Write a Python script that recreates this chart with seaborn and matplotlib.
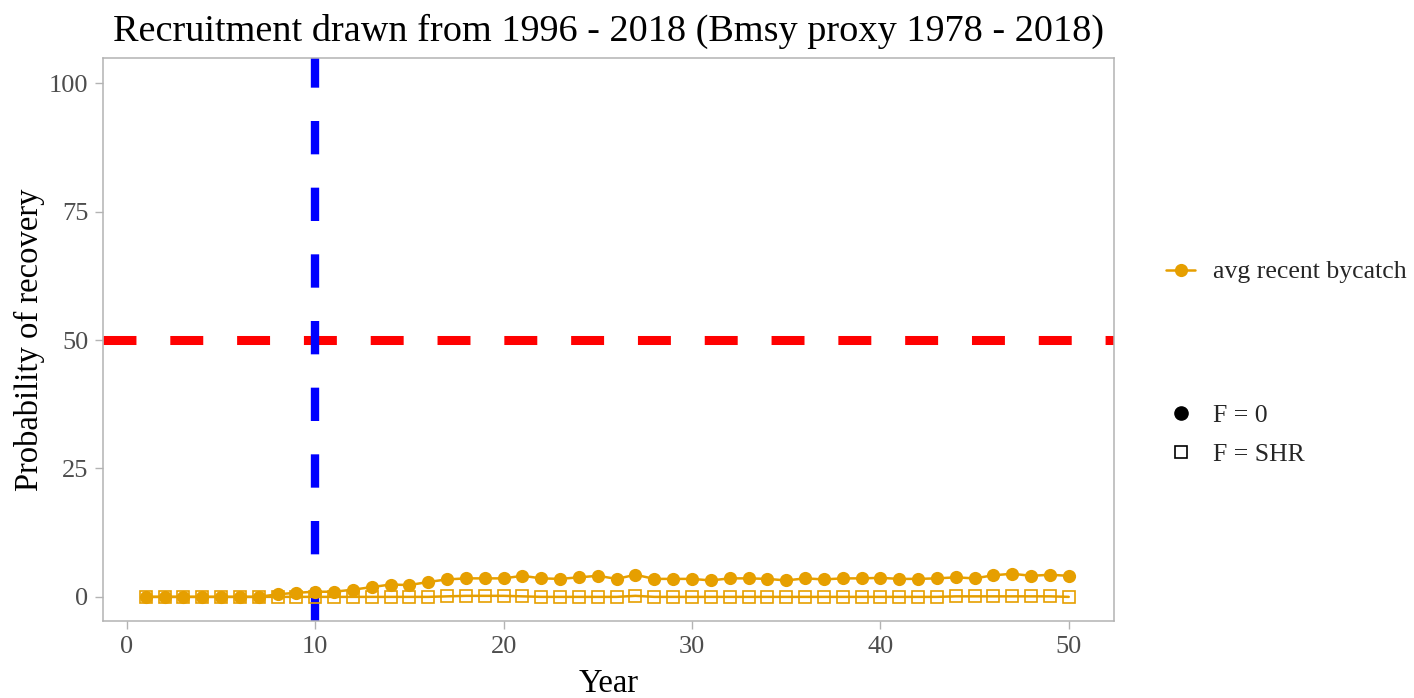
import numpy as np
import pandas as pd
import matplotlib
matplotlib.use("Agg")
import matplotlib.pyplot as plt
from matplotlib.lines import Line2D
import seaborn as sns

# ------------------------- DATA ------------------------- #

years = list(range(1, 51))
prob_f0 = [0, 0, 0, 0, 0, 0, 0, 0.5, 0.8, 1.0,
           1.0, 1.4, 1.9, 2.4, 2.3, 2.9, 3.4, 3.6, 3.6, 3.6,
           4.1, 3.6, 3.5, 3.8, 4.1, 3.5, 4.3, 3.5, 3.5, 3.5,
           3.2, 3.6, 3.6, 3.5, 3.2, 3.6, 3.4, 3.6, 3.6, 3.7,
           3.5, 3.5, 3.6, 3.8, 3.6, 4.2, 4.5, 4.1, 4.3, 4.1]
prob_shr = [0, 0, 0, 0, 0, 0, 0, 0, 0, 0,
            0, 0, 0, 0, 0, 0, 0.1, 0.2, 0.2, 0.2,
            0.1, 0, 0, 0, 0, 0, 0.2, 0, 0, 0,
            0, 0, 0, 0, 0, 0, 0, 0, 0, 0,
            0, 0, 0, 0.1, 0.1, 0.1, 0.1, 0.1, 0.1, 0]
bycatch_label = "avg recent bycatch"
f_labels = ["F = 0", "F = SHR"]
target_year = 10
target_prob = 50
title = "Recruitment drawn from 1996 - 2018 (Bmsy proxy 1978 - 2018)"

df = pd.DataFrame({
    "Year": years * 2,
    "prob": prob_f0 + prob_shr,
    "F": [f_labels[0]] * len(years) + [f_labels[1]] * len(years),
})

# ------------------------- PLOT ------------------------- #

sns.set_style("white")
plt.rcParams["font.family"] = ["Liberation Serif", "DejaVu Serif"]

orange = "#E69F00"
grey = "#b3b3b3"

fig = plt.figure(figsize=(14.14, 6.98), dpi=100)
ax = fig.add_axes([0.0728, 0.1103, 0.715, 0.8066])

sns.lineplot(data=df[df["F"] == f_labels[0]], x="Year", y="prob", color=orange,
             marker="o", markersize=9.5, markeredgewidth=0, linewidth=1.8,
             legend=False, ax=ax, zorder=3)
sns.lineplot(data=df[df["F"] == f_labels[1]], x="Year", y="prob", color=orange,
             marker="s", markersize=8, markerfacecolor="none",
             markeredgecolor=orange, markeredgewidth=1.2, linewidth=1.8,
             legend=False, ax=ax, zorder=3)

ax.axhline(target_prob, color="#FF0000", linewidth=6.5, dashes=(3.65, 3.75), zorder=2)
ax.axvline(target_year, color="#0000FF", linewidth=6, dashes=(4.0, 4.0), zorder=2)

ax.set_xlim(-1.27, 52.4)
ax.set_ylim(-4.7, 104.9)
ax.set_xticks([0, 10, 20, 30, 40, 50])
ax.set_yticks([0, 25, 50, 75, 100])
ax.set_xlabel("Year", fontsize=23.5, color="black", labelpad=8)
ax.set_ylabel("Probability of recovery", fontsize=23.5, color="black", labelpad=3)
ax.set_title(title, fontsize=27.5, color="black", pad=12)
ax.tick_params(axis="both", labelsize=19, labelcolor="#4d4d4d", color=grey,
               length=5.5, width=1, direction="out", bottom=True, left=True)
ax.tick_params(axis="y", pad=5)
ax.tick_params(axis="x", pad=5)
for s in ax.spines.values():
    s.set_color(grey)
    s.set_linewidth(1.1)

h_bycatch = [Line2D([], [], color=orange, marker="o", markersize=9.5,
                    markeredgewidth=0, linewidth=1.8)]
leg1 = fig.legend(h_bycatch, [bycatch_label], loc="center left",
                  bbox_to_anchor=(1166 / 1414, 1 - 272 / 698), frameon=False,
                  fontsize=18.5, handlelength=1.13, handletextpad=0.7,
                  borderpad=0, borderaxespad=0)
h_f = [Line2D([], [], color="black", marker="o", markersize=9.5, linestyle="none"),
       Line2D([], [], color="black", marker="s", markersize=8.5,
              markerfacecolor="none", markeredgewidth=1.2, linestyle="none")]
leg2 = fig.legend(h_f, f_labels, loc="center left",
                  bbox_to_anchor=(1166 / 1414, 1 - 435 / 698), frameon=False,
                  fontsize=18.5, handlelength=1.13, handletextpad=0.7,
                  labelspacing=0.65, borderpad=0, borderaxespad=0)

fig.savefig("out.png", dpi=100)
